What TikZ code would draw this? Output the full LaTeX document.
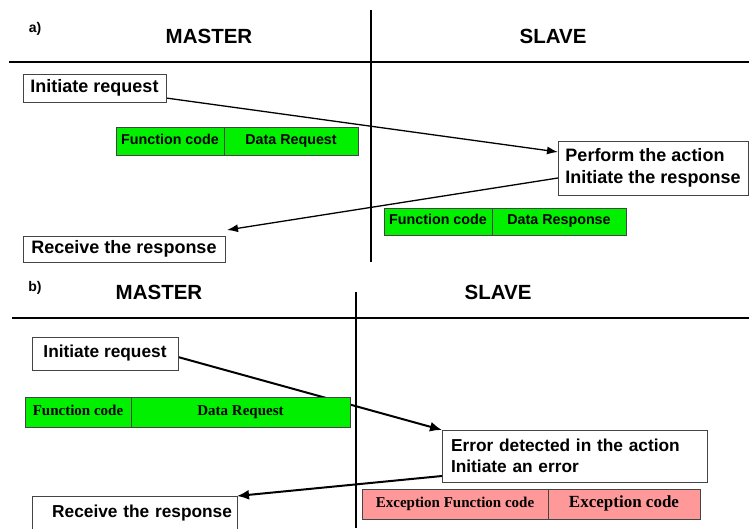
\documentclass[tikz,border=0pt]{standalone}
\usepackage{fontspec}
\setmainfont{Liberation Sans}
\newfontfamily\pktserif{Liberation Serif}
\usetikzlibrary{arrows.meta,positioning,backgrounds}
\definecolor{cPacket}{HTML}{00F000}
\definecolor{cExcept}{HTML}{FF9999}
\definecolor{cFrame}{HTML}{444444}

\begin{document}
\begin{tikzpicture}[
    x=1pt, y=1pt,
    act/.style={rectangle, draw=cFrame, fill=white, inner sep=0pt, outer sep=0pt, anchor=north west, font=\bfseries\fontsize{18}{22.5}\selectfont},
    actb/.style={act, font=\bfseries\fontsize{17.3}{21}\selectfont},
    pkt/.style={rectangle, draw=cFrame, fill=cPacket, inner sep=0pt, outer sep=0pt, text height=1.7ex, text depth=.4ex, font=\bfseries\fontsize{14.3}{16}\selectfont},
    pktb/.style={pkt, font=\pktserif\bfseries\fontsize{15}{17}\selectfont},
    exc/.style={pktb, fill=cExcept},
    side/.style={font=\bfseries\fontsize{20.5}{24}\selectfont},
    tag/.style={font=\bfseries\fontsize{14}{16}\selectfont},
    arr/.style={-{Latex[length=11pt,width=8pt]}, line width=1.3pt},
    arrb/.style={-{Latex[length=12pt,width=10pt]}, line width=2pt}
]
\useasboundingbox (0,0) rectangle (749,528);

\node[tag]  (tagA) at (35,499) {a)};
\node[side] (mA) at (209,492) {MASTER};
\node[side] (sA) at (553,492) {SLAVE};

\node[act, minimum width=143pt, minimum height=28pt] (reqA) at (23,454) {Initiate request};
\node[act, minimum width=202pt, minimum height=26pt] (recA) at (23,292) {Receive the response};
\node[pkt, anchor=north west, minimum width=108pt, minimum height=28pt] (fcA) at (116,401) {Function code};
\node[pkt, minimum width=134pt, minimum height=28pt, right=0pt of fcA] (drA) {Data Request};
\node[act, minimum width=190pt, minimum height=54pt, align=left] (perfA) at (558,387) {Perform the action\\Initiate the response};
\node[pkt, anchor=north west, minimum width=108pt, minimum height=27pt] (fcA2) at (384,320) {Function code};
\node[pkt, minimum width=134pt, minimum height=27pt, right=0pt of fcA2] (drA2) {Data Response};

\node[tag]  (tagB) at (35,240) {b)};
\node[side] (mB) at (159,236) {MASTER};
\node[side] (sB) at (498,236) {SLAVE};

\node[actb, minimum width=146pt, minimum height=33pt] (reqB) at (32,191) {Initiate request};
\node[pktb, anchor=north west, minimum width=106pt, minimum height=30pt] (fcB) at (25,131) {Function code};
\node[pktb, minimum width=219pt, minimum height=30pt, right=0pt of fcB] (drB) {Data Request};
\node[actb, text width=247pt, inner xsep=9pt, minimum height=52pt, align=left] (errB) at (442,98) {Error detected in the action\\Initiate an error};
\node[exc, anchor=north west, minimum width=186pt, minimum height=30pt] (efB) at (362,39) {Exception Function code};
\node[exc, minimum width=152pt, minimum height=30pt, right=0pt of efB, font=\pktserif\bfseries\fontsize{17}{19}\selectfont] (ecB) {Exception code};
\node[actb, text width=195pt, inner xsep=5pt, minimum height=34pt, align=right] (recB) at (32,32) {Receive the response};

\begin{scope}[on background layer]
\draw[line width=1.2pt] (9,466) -- (749,466);
\draw[line width=1.2pt] (371,518) -- (371,266);
\draw[line width=2.2pt] (12,210) -- (749,210);
\draw[line width=2.2pt] (356,236) -- (356,0);
\draw[arr] ([yshift=-10pt]reqA.east) -- ([yshift=16pt]perfA.west);
\draw[arr] ([yshift=-10pt]perfA.west) -- ([shift={(2pt,6pt)}]recA.north east);
\draw[arrb] ([yshift=-3.5pt]reqB.east) -- (errB.north west);
\draw[arrb] ([yshift=6pt]errB.south west) -- (recB.north east);
\end{scope}
\end{tikzpicture}
\end{document}
